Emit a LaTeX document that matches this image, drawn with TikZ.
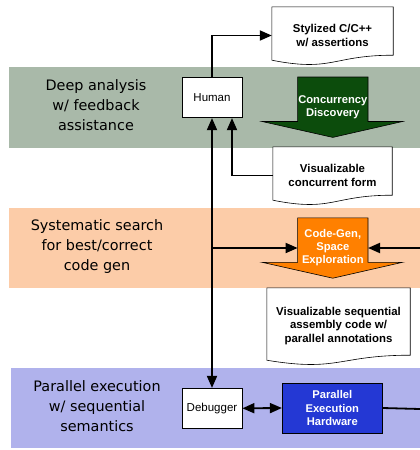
\documentclass[tikz,border=0pt]{standalone}
\usepackage{fontspec}
\setmainfont{Liberation Sans}
\newfontfamily\labelfont{DejaVu Sans}
\usetikzlibrary{arrows.meta,calc,backgrounds}
\definecolor{bandgreen}{RGB}{169,185,169}
\definecolor{bandorange}{RGB}{252,204,168}
\definecolor{bandblue}{RGB}{176,178,236}
\definecolor{arrowgreen}{RGB}{12,76,12}
\definecolor{arroworange}{RGB}{255,128,0}
\definecolor{hwblue}{RGB}{36,56,212}
\newcommand\docpath[1]{%
  \draw[docline] (#1.north west) -- (#1.north east) -- ($(#1.south east)+(0,-9)$)
    .. controls ($(#1.south)+(0,-9)$) and ($(#1.south)+(0,8)$) .. ($(#1.south west)+(0,-4)$) -- cycle;}
\newcommand\blockarrow[2]{%
  \draw[line width=0.6pt, fill=#2] (#1.north west) -- (#1.north east) -- ($(#1.north east)+(0,44.5)$)
    -- ++(34.5,0) -- (#1.south) -- ($(#1.north west)+(-35.5,44.5)$) -- ($(#1.north west)+(0,44.5)$) -- cycle;}
\begin{document}
\begin{tikzpicture}[x=1pt,y=-1pt,
  band/.style={anchor=north west, inner sep=0pt, draw=none, minimum height=81pt},
  lbl/.style={font=\labelfont\fontsize{14.4}{20}\selectfont, align=center, text=black},
  whitebox/.style={draw, line width=0.8pt, fill=white, minimum width=60pt, minimum height=40pt, inner sep=0pt, font=\fontsize{11.5}{13}\selectfont},
  docbox/.style={inner sep=0pt, align=center, font=\bfseries\fontsize{11.4}{13.2}\selectfont},
  docline/.style={line width=0.6pt, fill=white},
  arrowtext/.style={inner sep=0pt, minimum width=70pt, minimum height=60pt, align=center, text=white, font=\bfseries\fontsize{11.2}{13}\selectfont},
  hwbox/.style={draw, line width=0.8pt, fill=hwblue, minimum width=100pt, minimum height=50pt, inner sep=0pt, align=center, text=white, font=\bfseries\fontsize{11.2}{13.4}\selectfont},
  conn/.style={line width=1.8pt, -{Triangle[length=12pt,width=10pt]}},
  dconn/.style={line width=1.8pt, {Triangle[length=12pt,width=10pt]}-{Triangle[length=12pt,width=10pt]}},
  plain/.style={line width=1.8pt}
]
\useasboundingbox (0,0) rectangle (420,450);
\begin{scope}[on background layer]
  \node[band, fill=bandgreen, minimum width=411pt] (bgreen) at (9,67) {};
  \node[band, fill=bandorange, minimum width=411pt, minimum height=80pt] (borange) at (9,208) {};
  \node[band, fill=bandblue, minimum width=409pt, minimum height=80pt] (bblue) at (11,368) {};
\end{scope}

% band labels
\node[lbl] (l1) at (96,105) {Deep analysis\\w/ feedback\\assistance};
\node[lbl] (l2) at (97,246.5) {Systematic search\\for best/correct\\code gen};
\node[lbl] (l3) at (97,406.5) {Parallel execution\\w/ sequential\\semantics};

% boxes
\node[whitebox] (human) at (212,97.7) {Human};
\node[whitebox] (debug) at (212,408.3) {Debugger};
\node[hwbox] (hw) at (332.3,408) {Parallel\\Execution\\Hardware};

% documents
\node[docbox, minimum width=121pt, minimum height=57pt] (styl) at (332.5,35.5) {Stylized C/C++\\w/ assertions};
\node[docbox, minimum width=119pt, minimum height=57pt] (conc) at (332.5,175.5) {Visualizable\\concurrent form};
\node[docbox, minimum width=143pt, minimum height=76pt] (seq) at (338.5,326) {Visualizable sequential\\assembly code w/\\parallel annotations};

% block arrows
\node[arrowtext] (cd) at (332.8,107.2) {Concurrency\\Discovery};
\node[arrowtext] (cg) at (332.8,248) {Code-Gen,\\Space\\Exploration};

\begin{scope}[on background layer]
  \docpath{styl}
  \docpath{conc}
  \docpath{seq}
  \blockarrow{cd}{arrowgreen}
  \blockarrow{cg}{arroworange}
\end{scope}

% connectors
\coordinate (rin) at (420,248);
\coordinate (rout) at (420,409);
\draw[conn] (human.north) |- (styl.west);
\draw[conn] (conc.west) -| ([xshift=20pt]human.south);
\draw[dconn] (human.south) -- (debug.north);
\draw[conn] (human.south |- cg.west) -- (cg.west);
\draw[conn] (rin) -- (cg.east);
\draw[dconn] (debug.east) -- (hw.west);
\draw[plain] (hw.east) -- (rout);
\end{tikzpicture}
\end{document}
